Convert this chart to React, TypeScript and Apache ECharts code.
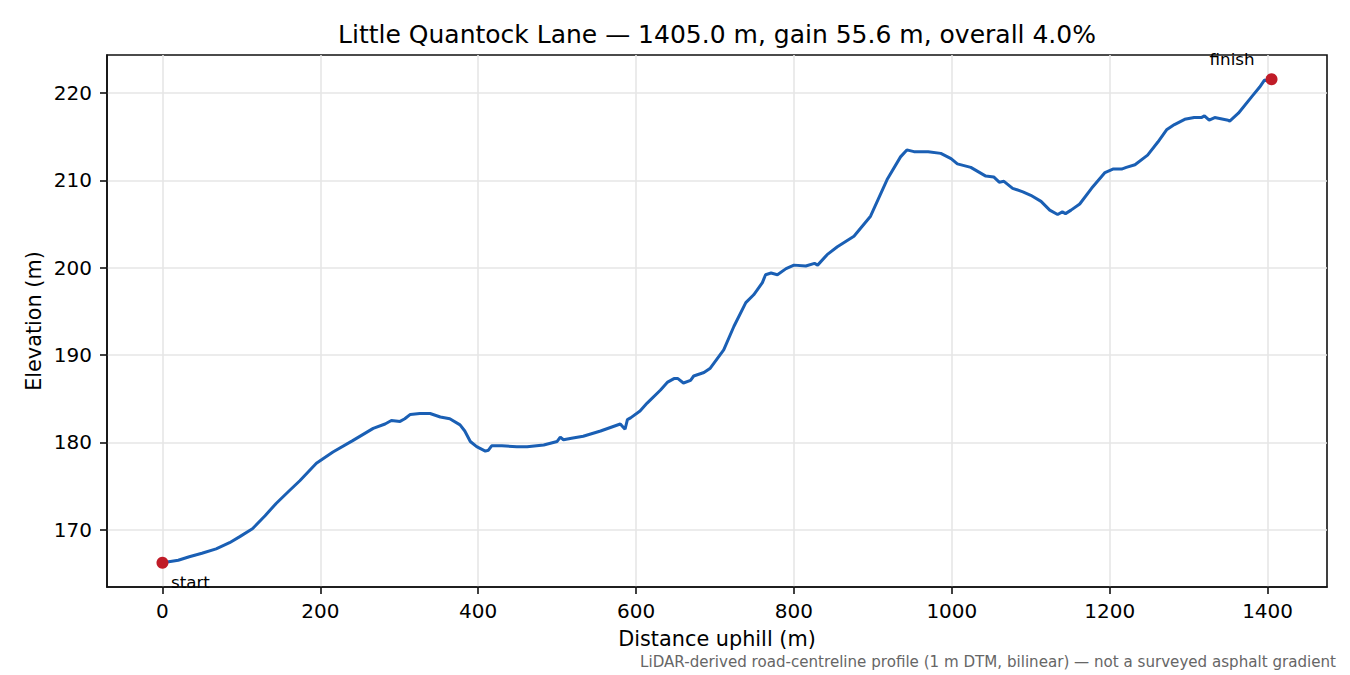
import React, { useEffect, useRef } from 'react';
import * as echarts from 'echarts';

// profile (distance uphill in m, elevation in m)
const distance = [
  0, 20, 34, 50, 68, 85, 98, 114, 130, 144, 160, 174, 195, 216, 241, 267, 282, 290, 301, 307,
  314, 326, 339, 352, 364, 377, 383, 390, 398, 409, 413, 417, 430, 449, 462, 483, 500, 504, 508,
  520, 533, 555, 580, 586, 589, 593, 605, 614, 631, 640, 648, 653, 660, 669, 673, 686, 694, 711,
  724, 739, 749, 760, 764, 771, 779, 790, 800, 815, 826, 830, 842, 855, 876, 897, 918, 935, 943,
  952, 970, 986, 999, 1007, 1024, 1043, 1053, 1060, 1066, 1077, 1090, 1100, 1113, 1124, 1134,
  1140, 1144, 1151, 1162, 1177, 1194, 1204, 1215, 1221, 1232, 1248, 1261, 1272, 1282, 1295, 1307,
  1316, 1320, 1326, 1333, 1350, 1352, 1363, 1380, 1390, 1396, 1400, 1405,
];
const elevation = [
  166.2, 166.5, 166.9, 167.3, 167.8, 168.5, 169.2, 170.1, 171.6, 173.0, 174.4, 175.6, 177.6,
  178.9, 180.2, 181.6, 182.1, 182.5, 182.4, 182.7, 183.2, 183.3, 183.3, 182.9, 182.7, 182.0,
  181.3, 180.1, 179.5, 179.0, 179.1, 179.6, 179.6, 179.5, 179.5, 179.7, 180.1, 180.6, 180.3,
  180.5, 180.7, 181.3, 182.1, 181.5, 182.6, 182.8, 183.6, 184.5, 186.0, 186.9, 187.3, 187.3,
  186.8, 187.1, 187.6, 188.0, 188.5, 190.6, 193.3, 196.0, 196.9, 198.3, 199.2, 199.4, 199.2,
  199.9, 200.3, 200.2, 200.5, 200.3, 201.5, 202.4, 203.6, 205.9, 210.1, 212.7, 213.5, 213.3,
  213.3, 213.1, 212.5, 211.9, 211.5, 210.5, 210.4, 209.8, 209.9, 209.1, 208.7, 208.3, 207.6,
  206.6, 206.1, 206.4, 206.2, 206.6, 207.3, 209.1, 210.9, 211.3, 211.3, 211.5, 211.8, 212.9,
  214.4, 215.8, 216.4, 217.0, 217.2, 217.2, 217.4, 216.9, 217.2, 216.9, 216.8, 217.7, 219.6,
  220.7, 221.5, 221.4, 221.6,
];
const xTicks = [0, 200, 400, 600, 800, 1000, 1200, 1400];
const yTicks = [170, 180, 190, 200, 210, 220];
const endLabels = ['start', 'finish'];

const titleText = 'Little Quantock Lane — 1405.0 m, gain 55.6 m, overall 4.0%';
const noteText =
  'LiDAR-derived road-centreline profile (1 m DTM, bilinear) — not a surveyed asphalt gradient';

const FONT = '"DejaVu Sans", "Liberation Sans", sans-serif';

export default function App() {
  const chartRef = useRef<HTMLDivElement>(null);

  useEffect(() => {
    if (!chartRef.current) return;
    const chart = echarts.init(chartRef.current, undefined, { renderer: 'svg' });

    // matplotlib-like 5% margins
    const xPad = (distance[distance.length - 1] - distance[0]) * 0.05;
    const yLo = Math.min(...elevation);
    const yHi = Math.max(...elevation);
    const yPad = (yHi - yLo) * 0.05;

    const last = distance.length - 1;
    const line = distance.map((d, i) => [d, elevation[i]]);

    const endLabel = {
      show: true,
      position: 'inside' as const,
      verticalAlign: 'middle' as const,
      fontSize: 16.7,
      color: '#000',
      fontFamily: FONT,
    };

    const spine = { color: '#111', width: 1.6 };
    const gridLine = { color: '#e6e6e6', width: 1.6, type: 'solid' as const };

    const option: echarts.EChartsOption = {
      animation: false,
      backgroundColor: '#fff',
      textStyle: { fontFamily: FONT },
      grid: {
        left: 107,
        right: 23,
        top: 55,
        bottom: 88,
        show: true,
        borderColor: '#111',
        borderWidth: 1.6,
        backgroundColor: 'transparent',
      },
      xAxis: {
        type: 'value',
        position: 'bottom',
        min: distance[0] - xPad,
        max: distance[last] + xPad,
        axisLine: { show: true, onZero: false, lineStyle: spine },
        splitLine: { show: true, lineStyle: gridLine },
        axisTick: { show: true, customValues: xTicks, length: 7, lineStyle: spine },
        axisLabel: {
          customValues: xTicks,
          margin: 14,
          fontSize: 20,
          color: '#000',
          fontFamily: FONT,
          formatter: (v: number) => String(v),
        },
      },
      yAxis: {
        type: 'value',
        position: 'left',
        min: yLo - yPad,
        max: yHi + yPad,
        axisLine: { show: true, onZero: false, lineStyle: spine },
        splitLine: { show: true, lineStyle: gridLine },
        axisTick: { show: true, customValues: yTicks, length: 7, lineStyle: spine },
        axisLabel: {
          customValues: yTicks,
          margin: 15,
          fontSize: 20,
          color: '#000',
          fontFamily: FONT,
          formatter: (v: number) => String(v),
        },
      },
      series: [
        {
          type: 'line',
          data: line,
          z: 2,
          showSymbol: false,
          symbol: 'none',
          lineStyle: { color: '#1a5fb4', width: 3 },
          itemStyle: { color: '#1a5fb4' },
        },
        {
          type: 'scatter',
          z: 3,
          symbolSize: 12,
          itemStyle: { color: '#c01c28', opacity: 1 },
          data: [
            {
              value: [distance[0], elevation[0]],
              label: { ...endLabel, formatter: endLabels[0], align: 'left', offset: [8.5, 19.5] },
            },
            {
              value: [distance[last], elevation[last]],
              label: { ...endLabel, formatter: endLabels[1], align: 'right', offset: [-17, -20] },
            },
          ],
        },
      ],
      graphic: [
        {
          type: 'text',
          x: 717,
          y: 34,
          style: {
            text: titleText,
            fontSize: 25,
            fontFamily: FONT,
            fill: '#000',
            align: 'center',
            verticalAlign: 'middle',
          },
        },
        {
          type: 'text',
          x: 717,
          y: 639,
          style: {
            text: 'Distance uphill (m)',
            fontSize: 20.8,
            fontFamily: FONT,
            fill: '#000',
            align: 'center',
            verticalAlign: 'middle',
          },
        },
        {
          type: 'text',
          x: 34,
          y: 321,
          rotation: Math.PI / 2,
          style: {
            text: 'Elevation (m)',
            fontSize: 20.8,
            fontFamily: FONT,
            fill: '#000',
            align: 'center',
            verticalAlign: 'middle',
          },
        },
        {
          type: 'text',
          x: 1336,
          y: 662,
          style: {
            text: noteText,
            fontSize: 15.1,
            fontFamily: FONT,
            fill: '#666',
            align: 'right',
            verticalAlign: 'middle',
          },
        },
      ],
    };
    chart.setOption(option);

    return () => {
      chart.dispose();
    };
  }, []);

  return (
    <div
      ref={chartRef}
      style={{ position: 'fixed', left: 0, top: 0, width: '1350px', height: '675px' }}
    />
  );
}
